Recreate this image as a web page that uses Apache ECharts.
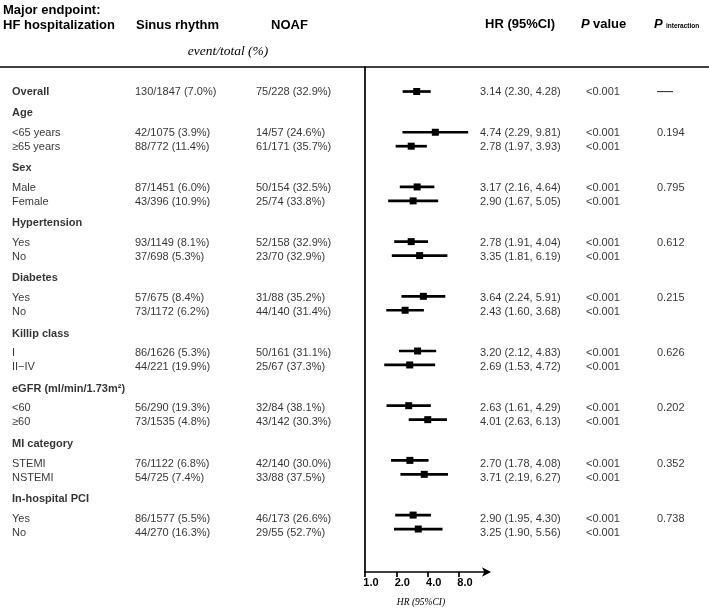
<!DOCTYPE html>
<html>
<head>
<meta charset="utf-8">
<script src="https://cdn.jsdelivr.net/npm/echarts@6/dist/echarts.min.js"></script>
<style>
  html, body { margin: 0; padding: 0; background: #fff; }
  #forest { width: 709px; height: 612px; }
</style>
</head>
<body>
<div id="forest"></div>
<script>
// subgroup rows (Overall first)
var rowLabels = ["Overall", "<65 years", "≥65 years", "Male", "Female", "Yes", "No", "Yes", "No",
  "I", "II−IV", "<60", "≥60", "STEMI", "NSTEMI", "Yes", "No"];
var groupNames = ["Age", "Sex", "Hypertension", "Diabetes", "Killip class",
  "eGFR (ml/min/1.73m²)", "MI category", "In-hospital PCI"];
var sinusRhythm = ["130/1847 (7.0%)", "42/1075 (3.9%)", "88/772 (11.4%)", "87/1451 (6.0%)", "43/396 (10.9%)",
  "93/1149 (8.1%)", "37/698 (5.3%)", "57/675 (8.4%)", "73/1172 (6.2%)", "86/1626 (5.3%)", "44/221 (19.9%)",
  "56/290 (19.3%)", "73/1535 (4.8%)", "76/1122 (6.8%)", "54/725 (7.4%)", "86/1577 (5.5%)", "44/270 (16.3%)"];
var noaf = ["75/228 (32.9%)", "14/57 (24.6%)", "61/171 (35.7%)", "50/154 (32.5%)", "25/74 (33.8%)",
  "52/158 (32.9%)", "23/70 (32.9%)", "31/88 (35.2%)", "44/140 (31.4%)", "50/161 (31.1%)", "25/67 (37.3%)",
  "32/84 (38.1%)", "43/142 (30.3%)", "42/140 (30.0%)", "33/88 (37.5%)", "46/173 (26.6%)", "29/55 (52.7%)"];
var hr = [3.14, 4.74, 2.78, 3.17, 2.90, 2.78, 3.35, 3.64, 2.43, 3.20, 2.69, 2.63, 4.01, 2.70, 3.71, 2.90, 3.25];
var hrLow = [2.30, 2.29, 1.97, 2.16, 1.67, 1.91, 1.81, 2.24, 1.60, 2.12, 1.53, 1.61, 2.63, 1.78, 2.19, 1.95, 1.90];
var hrHigh = [4.28, 9.81, 3.93, 4.64, 5.05, 4.04, 6.19, 5.91, 3.68, 4.83, 4.72, 4.29, 6.13, 4.08, 6.27, 4.30, 5.56];
var pValue = ["<0.001", "<0.001", "<0.001", "<0.001", "<0.001", "<0.001", "<0.001", "<0.001", "<0.001",
  "<0.001", "<0.001", "<0.001", "<0.001", "<0.001", "<0.001", "<0.001", "<0.001"];
var pInteraction = ["0.194", "0.795", "0.612", "0.215", "0.626", "0.202", "0.352", "0.738"];
var xTicks = [1, 2, 4, 8];

var chart = echarts.init(document.getElementById("forest"));

// vertical layout (in row units)
var GAP_HEAD = 1.52, GAP_FIRST = 1.4, GAP_SUB = 1.0;
var Y_MIN = -1.757, Y_MAX = 34.44;
var TOP = 67, BOTTOM = 36;

var rowY = [0];
var headY = [];
var y = 0;
groupNames.forEach(function (g, i) {
  y += GAP_HEAD;
  headY.push(y);
  y += GAP_FIRST;
  rowY.push(y);
  y += GAP_SUB;
  rowY.push(y);
});

var FONT = "Liberation Sans, Arial, sans-serif";
var txt = { color: "#000", fontFamily: FONT, fontSize: 11 };

// build text column data
var labelData = [];
rowLabels.forEach(function (l, i) {
  labelData.push({ value: [0, rowY[i]], name: l, label: { fontWeight: i === 0 ? "bold" : "normal" } });
});
groupNames.forEach(function (g, i) {
  labelData.push({ value: [0, headY[i]], name: g, label: { fontWeight: "bold" } });
});
function colData(arr) {
  return arr.map(function (s, i) { return { value: [0, rowY[i]], name: s }; });
}
var hrText = hr.map(function (v, i) {
  return v.toFixed(2) + " (" + hrLow[i].toFixed(2) + ", " + hrHigh[i].toFixed(2) + ")";
});
var pintData = [{ value: [0, rowY[0]], name: "—", label: { fontSize: 16 } }];
pInteraction.forEach(function (p, i) {
  pintData.push({ value: [0, rowY[1 + i * 2]], name: p });
});

var columns = [
  { left: 12, data: labelData },
  { left: 135, data: colData(sinusRhythm) },
  { left: 256, data: colData(noaf) },
  { left: 480, data: colData(hrText) },
  { left: 586, data: colData(pValue) },
  { left: 657, data: pintData }
];

var grids = [{ left: 365, right: 222, top: TOP, bottom: BOTTOM }];
var xAxes = [{
  type: "log", logBase: 2, min: 1, max: 14.87, gridIndex: 0,
  axisLine: { onZero: false, symbol: ["none", "arrow"], symbolSize: [7, 9], symbolOffset: [0, 4],
    lineStyle: { color: "#000", width: 1.7 } },
  axisTick: { show: true, length: 5, customValues: xTicks, lineStyle: { color: "#000", width: 1.7 } },
  axisLabel: { customValues: xTicks, color: "#000", fontFamily: FONT, fontSize: 11, fontWeight: "bold",
    margin: 5, padding: [0, 0, 0, 12],
    formatter: function (v) { return Number(v).toFixed(1); } },
  splitLine: { show: false },
  name: "HR (95%CI)", nameLocation: "middle", nameGap: 25,
  nameTextStyle: { fontFamily: "Liberation Serif, Times New Roman, serif", fontStyle: "italic",
    fontSize: 9.5, color: "#000", padding: [0, 10, 0, 0] }
}];
var yAxes = [{
  type: "value", inverse: true, min: Y_MIN, max: Y_MAX, gridIndex: 0,
  axisLine: { show: true, lineStyle: { color: "#000", width: 1.7 } },
  axisTick: { show: false }, axisLabel: { show: false }, splitLine: { show: false }
}];
var series = [{
  type: "custom",
  xAxisIndex: 0, yAxisIndex: 0,
  data: hr.map(function (v, i) { return [v, hrLow[i], hrHigh[i], rowY[i]]; }),
  encode: { x: [0, 1, 2], y: 3 },
  renderItem: function (params, api) {
    var yy = api.value(3);
    var p = api.coord([api.value(0), yy]);
    var l = api.coord([api.value(1), yy]);
    var h = api.coord([api.value(2), yy]);
    return {
      type: "group",
      children: [
        { type: "line", shape: { x1: l[0], y1: l[1], x2: h[0], y2: h[1] },
          style: { stroke: "#000", lineWidth: 2.7 } },
        { type: "rect", shape: { x: p[0] - 3.5, y: p[1] - 3.5, width: 7, height: 7 },
          style: { fill: "#000" } }
      ]
    };
  }
}];

columns.forEach(function (c, k) {
  var gi = k + 1;
  grids.push({ left: c.left, width: 10, top: TOP, bottom: BOTTOM });
  xAxes.push({ type: "value", gridIndex: gi, min: 0, max: 1, show: false });
  yAxes.push({ type: "value", gridIndex: gi, inverse: true, min: Y_MIN, max: Y_MAX, show: false });
  series.push({
    type: "scatter", xAxisIndex: gi, yAxisIndex: gi, symbolSize: 0, silent: true,
    data: c.data,
    label: Object.assign({ show: true, position: "right", distance: 0,
      formatter: function (p) { return p.name; } }, txt)
  });
});

var HEAD_FONT = "bold 13px " + FONT;
function headText(x, y, text, font, align) {
  return { type: "text", x: x, y: y, silent: true,
    style: { text: text, font: font || HEAD_FONT, fill: "#000", align: align || "left", verticalAlign: "middle" } };
}

var option = {
  animation: false,
  grid: grids,
  xAxis: xAxes,
  yAxis: yAxes,
  series: series,
  graphic: [
    headText(3, 10, "Major endpoint:"),
    headText(3, 25, "HF hospitalization"),
    headText(136, 25, "Sinus rhythm"),
    headText(271, 25, "NOAF"),
    headText(485, 24, "HR (95%CI)"),
    {
      type: "text", x: 581, y: 24, silent: true,
      style: {
        text: "{p|P} {b|value}", fill: "#000", verticalAlign: "middle",
        rich: {
          p: { font: "italic bold 13px " + FONT, fill: "#000" },
          b: { font: HEAD_FONT, fill: "#000" }
        }
      }
    },
    {
      type: "text", x: 654, y: 24, silent: true,
      style: {
        text: "{p|P} {s|interaction}", fill: "#000", verticalAlign: "middle",
        rich: {
          p: { font: "italic bold 13px " + FONT, fill: "#000" },
          s: { font: "bold 6.5px " + FONT, fill: "#000", padding: [4, 0, 0, 0] }
        }
      }
    },
    headText(228, 51, "event/total (%)", "italic 13.5px Liberation Serif, Times New Roman, serif", "center"),
    { type: "line", silent: true, shape: { x1: 0, y1: 67, x2: 709, y2: 67 },
      style: { stroke: "#000", lineWidth: 1.5 } }
  ]
};

chart.setOption(option);
</script>
</body>
</html>
